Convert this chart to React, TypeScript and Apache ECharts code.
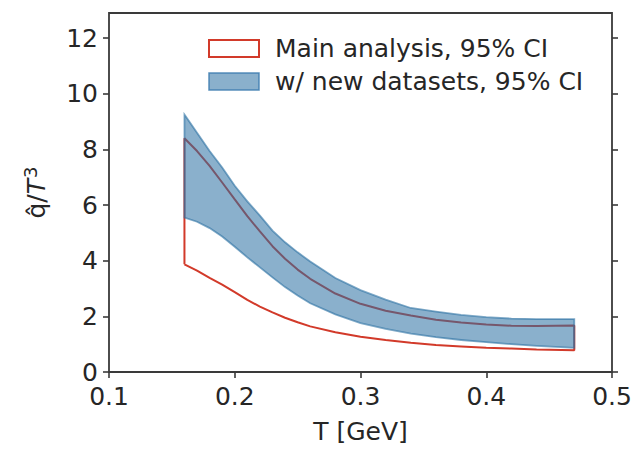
import React, { useEffect, useRef } from "react";
import * as echarts from "echarts";

// Temperature grid [GeV]
const temps = [0.16, 0.17, 0.18, 0.19, 0.2, 0.21, 0.22, 0.23, 0.24, 0.25, 0.26, 0.28, 0.3, 0.32, 0.34, 0.36, 0.38, 0.4, 0.42, 0.44, 0.47];
// Main analysis, 95% CI (red outline)
const mainUpper = [8.4, 7.94, 7.41, 6.81, 6.2, 5.6, 5.05, 4.52, 4.07, 3.68, 3.35, 2.82, 2.45, 2.2, 2.03, 1.88, 1.78, 1.71, 1.66, 1.65, 1.67];
const mainLower = [3.87, 3.64, 3.38, 3.14, 2.87, 2.59, 2.35, 2.14, 1.95, 1.79, 1.64, 1.43, 1.27, 1.15, 1.05, 0.97, 0.92, 0.87, 0.84, 0.81, 0.78];
// w/ new datasets, 95% CI (blue band)
const newUpper = [9.25, 8.6, 7.94, 7.35, 6.69, 6.13, 5.62, 5.08, 4.66, 4.3, 3.97, 3.38, 2.94, 2.6, 2.3, 2.17, 2.05, 1.97, 1.92, 1.9, 1.9];
const newLower = [5.55, 5.4, 5.17, 4.87, 4.5, 4.12, 3.76, 3.4, 3.05, 2.75, 2.47, 2.07, 1.76, 1.55, 1.38, 1.25, 1.15, 1.07, 1.0, 0.94, 0.87];

const yTicks = [0, 2, 4, 6, 8, 10, 12];
const xTicks = [0.1, 0.2, 0.3, 0.4, 0.5];

const seriesNames = ["Main analysis, 95% CI", "w/ new datasets, 95% CI"];

const RED = "#d23a2a";
const BLUE_FILL = "rgba(42,111,162,0.55)";
const BLUE_EDGE = "rgba(42,111,162,0.6)";
const TEXT = "#262626";
const AXIS = "#3a3a3a";
const FONT = "DejaVu Sans";
const FS = 25;

export default function App() {
  const ref = useRef<HTMLDivElement>(null);

  useEffect(() => {
    document.body.style.margin = "0";
    if (!ref.current) return;
    const chart = echarts.init(ref.current, null, { renderer: "svg" });

    const redPoly: number[][] = [];
    temps.forEach((t, i) => redPoly.push([t, mainLower[i]]));
    for (let i = temps.length - 1; i >= 0; i--) redPoly.push([temps[i], mainUpper[i]]);
    redPoly.push([temps[0], mainLower[0]]);

    const bluePts: number[][] = [];
    temps.forEach((t, i) => bluePts.push([t, newUpper[i]]));
    for (let i = temps.length - 1; i >= 0; i--) bluePts.push([temps[i], newLower[i]]);

    const yAxisCommon = {
      type: "value",
      min: 0,
      max: 12.9,
      interval: 2,
      splitLine: { show: false },
      axisLine: { show: false },
      axisTick: {
        show: true,
        inside: false,
        length: 6,
        customValues: yTicks,
        lineStyle: { color: AXIS, width: 1.6 },
      },
    };

    chart.setOption({
      animation: false,
      textStyle: { fontFamily: FONT },
      grid: {
        left: 109,
        right: 30,
        top: 13,
        bottom: 74,
        show: true,
        borderColor: AXIS,
        borderWidth: 1.8,
        backgroundColor: "transparent",
      },
      legend: {
        orient: "vertical",
        left: 203,
        top: 31,
        itemWidth: 50,
        itemHeight: 17,
        itemGap: 8,
        textStyle: { fontSize: FS, color: TEXT, fontFamily: FONT, padding: [0, 0, 0, 11] },
        data: [
          {
            name: seriesNames[0],
            icon: "rect",
            itemStyle: { color: "rgba(255,255,255,0)", borderColor: RED, borderWidth: 2 },
          },
          {
            name: seriesNames[1],
            icon: "rect",
            itemStyle: { color: "rgba(42,111,162,0.55)", borderColor: "rgba(60,125,175,0.85)", borderWidth: 1.5 },
          },
        ],
      },
      xAxis: {
        type: "value",
        min: 0.1,
        max: 0.5,
        interval: 0.1,
        name: "T [GeV]",
        nameLocation: "middle",
        nameGap: 47,
        nameTextStyle: { fontSize: FS, color: TEXT, fontFamily: FONT },
        splitLine: { show: false },
        axisLine: { show: false },
        axisTick: {
          show: true,
          length: 6,
          customValues: xTicks,
          lineStyle: { color: AXIS, width: 1.6 },
        },
        axisLabel: {
          fontSize: FS,
          color: TEXT,
          margin: 12,
          fontFamily: FONT,
          customValues: xTicks,
          formatter: (v: number) => v.toFixed(1),
        },
      },
      yAxis: [
        {
          ...yAxisCommon,
          position: "left",
          name: "{n|q̂/}{it|T}{sup|3}",
          nameLocation: "middle",
          nameRotate: 90,
          nameGap: 58,
          nameTextStyle: {
            fontSize: FS,
            color: TEXT,
            fontFamily: FONT,
            rich: {
              n: { fontSize: FS, color: TEXT, fontFamily: FONT, lineHeight: 30 },
              it: { fontSize: FS, color: TEXT, fontFamily: FONT, fontStyle: "italic", lineHeight: 30 },
              sup: { fontSize: 18, color: TEXT, fontFamily: FONT, verticalAlign: "top", lineHeight: 30, padding: [0, 0, 12, 1] },
            },
          },
          axisLabel: {
            fontSize: FS,
            color: TEXT,
            margin: 11,
            fontFamily: FONT,
            customValues: yTicks,
          },
        },
        {
          ...yAxisCommon,
          position: "right",
          axisLabel: { show: false },
        },
      ],
      series: [
        {
          name: seriesNames[0],
          type: "line",
          data: redPoly,
          showSymbol: false,
          symbol: "none",
          lineStyle: { color: RED, width: 2 },
          itemStyle: { color: RED },
          z: 2,
        },
        {
          name: seriesNames[1],
          type: "custom",
          data: [bluePts[0]],
          itemStyle: { color: BLUE_FILL },
          z: 3,
          renderItem: (params: any, api: any) => {
            if (params.dataIndex !== 0) return null;
            const points = bluePts.map((p) => api.coord(p));
            return {
              type: "polygon",
              shape: { points },
              style: { fill: BLUE_FILL, stroke: BLUE_EDGE, lineWidth: 1.8 },
            };
          },
        },
      ],
    });

    return () => chart.dispose();
  }, []);

  return <div ref={ref} style={{ width: 642, height: 449 }} />;
}
